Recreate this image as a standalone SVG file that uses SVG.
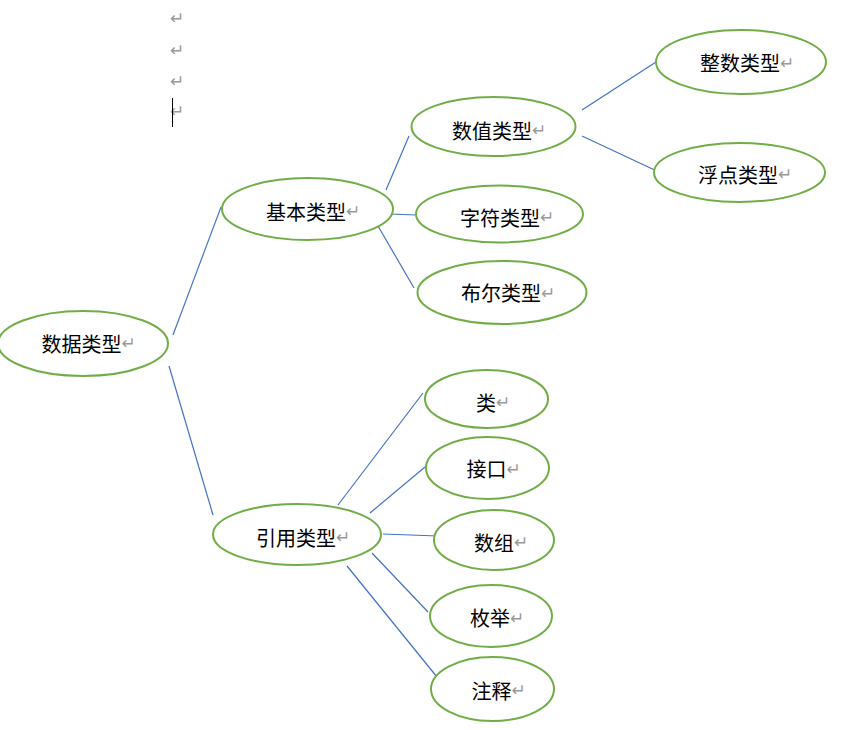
<svg xmlns="http://www.w3.org/2000/svg" width="861" height="730" viewBox="0 0 861 730">
<style>
.n{fill:#fff;stroke:#70AD47;stroke-width:2}
.c line{stroke:#4472C4;stroke-width:1.2}
.t{font-family:"Noto Sans CJK SC","Noto Sans CJK JP",sans-serif;font-size:20px;fill:#000;dominant-baseline:central}
.r{font-family:"DejaVu Sans",sans-serif;font-size:17px;fill:#999}
.m{font-family:"DejaVu Sans",sans-serif;font-size:17px;fill:#999;dominant-baseline:central}
</style>
<rect width="861" height="730" fill="#fff"/>
<g id="marks">
<text class="m" x="170" y="18">↵</text>
<text class="m" x="170" y="50">↵</text>
<text class="m" x="170" y="81">↵</text>
<text class="m" x="170" y="111">↵</text>
<line x1="172.5" y1="98" x2="172.5" y2="127" stroke="#000" stroke-width="1"/>
</g>
<g class="c" id="connectors">
<line x1="173" y1="335" x2="221" y2="207"/>
<line x1="169" y1="366" x2="213" y2="515"/>
<line x1="386" y1="190" x2="409" y2="136"/>
<line x1="390" y1="214" x2="416" y2="215"/>
<line x1="378" y1="226" x2="414" y2="288"/>
<line x1="582" y1="110" x2="656" y2="62"/>
<line x1="582" y1="136" x2="661" y2="173"/>
<line x1="338" y1="505" x2="423" y2="393"/>
<line x1="370" y1="513" x2="425" y2="467"/>
<line x1="383" y1="534" x2="438" y2="536"/>
<line x1="372" y1="553" x2="428" y2="612"/>
<line x1="347" y1="566" x2="437" y2="677"/>
</g>
<g id="n_sjlx"><ellipse class="n" cx="83" cy="343.5" rx="85" ry="32.5"/><text class="t" x="41.5" y="343">数据类型<tspan class="r">↵</tspan></text></g>
<g id="n_jblx"><ellipse class="n" cx="307.5" cy="209" rx="85.5" ry="31"/><text class="t" x="266" y="211">基本类型<tspan class="r">↵</tspan></text></g>
<g id="n_yylx"><ellipse class="n" cx="297" cy="534.5" rx="84" ry="30.5"/><text class="t" x="256" y="537">引用类型<tspan class="r">↵</tspan></text></g>
<g id="n_szlx"><ellipse class="n" cx="493.5" cy="126.5" rx="82" ry="29.5"/><text class="t" x="452" y="130">数值类型<tspan class="r">↵</tspan></text></g>
<g id="n_zflx"><ellipse class="n" cx="499.5" cy="214" rx="83.5" ry="28.5"/><text class="t" x="460" y="217">字符类型<tspan class="r">↵</tspan></text></g>
<g id="n_brlx"><ellipse class="n" cx="502" cy="292.5" rx="84.5" ry="31.5"/><text class="t" x="461" y="292.5">布尔类型<tspan class="r">↵</tspan></text></g>
<g id="n_zslx"><ellipse class="n" cx="741" cy="62" rx="85" ry="32"/><text class="t" x="700" y="62.5">整数类型<tspan class="r">↵</tspan></text></g>
<g id="n_fdlx"><ellipse class="n" cx="739.5" cy="172.5" rx="85.5" ry="29.5"/><text class="t" x="698" y="174">浮点类型<tspan class="r">↵</tspan></text></g>
<g id="n_lei"><ellipse class="n" cx="486.5" cy="399" rx="61.5" ry="29"/><text class="t" x="476" y="402">类<tspan class="r">↵</tspan></text></g>
<g id="n_jk"><ellipse class="n" cx="487.5" cy="468" rx="61.5" ry="31"/><text class="t" x="466.5" y="468.5">接口<tspan class="r">↵</tspan></text></g>
<g id="n_sz"><ellipse class="n" cx="494" cy="540" rx="60" ry="30"/><text class="t" x="474" y="542">数组<tspan class="r">↵</tspan></text></g>
<g id="n_mj"><ellipse class="n" cx="491" cy="616" rx="61" ry="31"/><text class="t" x="470" y="617.5">枚举<tspan class="r">↵</tspan></text></g>
<g id="n_zs"><ellipse class="n" cx="492.5" cy="689" rx="61.5" ry="32"/><text class="t" x="471.5" y="690">注释<tspan class="r">↵</tspan></text></g>
</svg>
